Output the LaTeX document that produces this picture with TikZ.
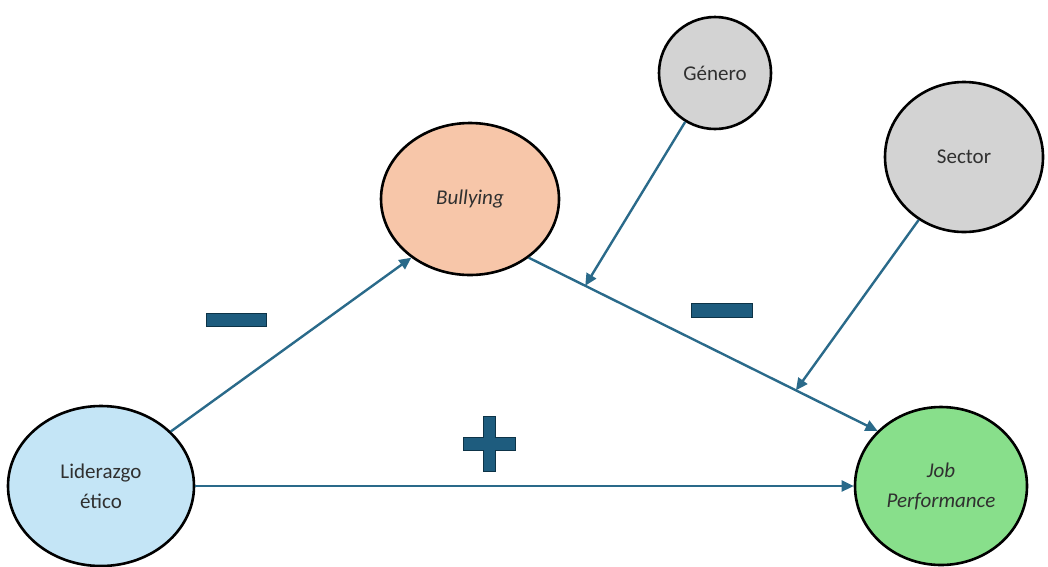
\documentclass[tikz,border=0pt]{standalone}
\usepackage{fontspec}
\setmainfont{Carlito}
\usetikzlibrary{arrows.meta,shapes.geometric}
\definecolor{lidc}{HTML}{C4E5F6}
\definecolor{bulc}{HTML}{F7C6A9}
\definecolor{jobc}{HTML}{88DF8B}
\definecolor{grayc}{HTML}{D3D3D3}
\definecolor{arrc}{HTML}{2A6A8A}
\definecolor{signc}{HTML}{1E5C7E}
\definecolor{signd}{HTML}{0D3347}
\definecolor{txt}{HTML}{303030}
\begin{document}
\begin{tikzpicture}[x=1pt,y=-1pt,
  var/.style={ellipse, draw=black, line width=2.6pt, inner sep=0pt,
    font=\fontsize{21}{30}\selectfont, text=txt, align=center},
  arr/.style={draw=arrc, line width=2.4pt, -{Triangle[length=12pt,width=11pt]}},
  sign/.style={draw=signd, fill=signc, line width=1pt, inner sep=0pt}]
\useasboundingbox (0,0) rectangle (1048,566);
\node[var, fill=lidc, minimum width=186pt, minimum height=160pt] (lid) at (101,486) {Liderazgo\\ético};
\node[var, fill=bulc, minimum width=178pt, minimum height=152pt] (bul) at (470,199) {\itshape Bullying};
\node[var, fill=jobc, minimum width=172pt, minimum height=158pt] (job) at (941,486) {\itshape Job\\\itshape Performance};
\node[var, fill=grayc, minimum width=112pt, minimum height=112pt] (gen) at (715,73) {Género};
\node[var, fill=grayc, minimum width=158pt, minimum height=150pt] (sec) at (964,157) {Sector};
\draw[arr] (lid.38) -- (bul.-135);
\draw[arr] (lid.east) -- (job.west);
\draw[arr] (bul.-45) -- coordinate[pos=0.162] (m1) coordinate[pos=0.766] (m2) (job.139);
\draw[arr] (gen) -- (m1);
\draw[arr] (sec) -- (m2);
\node[sign, minimum width=60pt, minimum height=13pt] (neg1) at (236.5,319.5) {};
\node[sign, minimum width=61pt, minimum height=14pt] (neg2) at (721.5,310) {};
\draw[sign] (483,416.5) -- (495,416.5) -- (495,437.5) -- (515,437.5) -- (515,450.5) -- (495,450.5) -- (495,471.5) -- (483,471.5) -- (483,450.5) -- (463,450.5) -- (463,437.5) -- (483,437.5) -- cycle;
\end{tikzpicture}
\end{document}
